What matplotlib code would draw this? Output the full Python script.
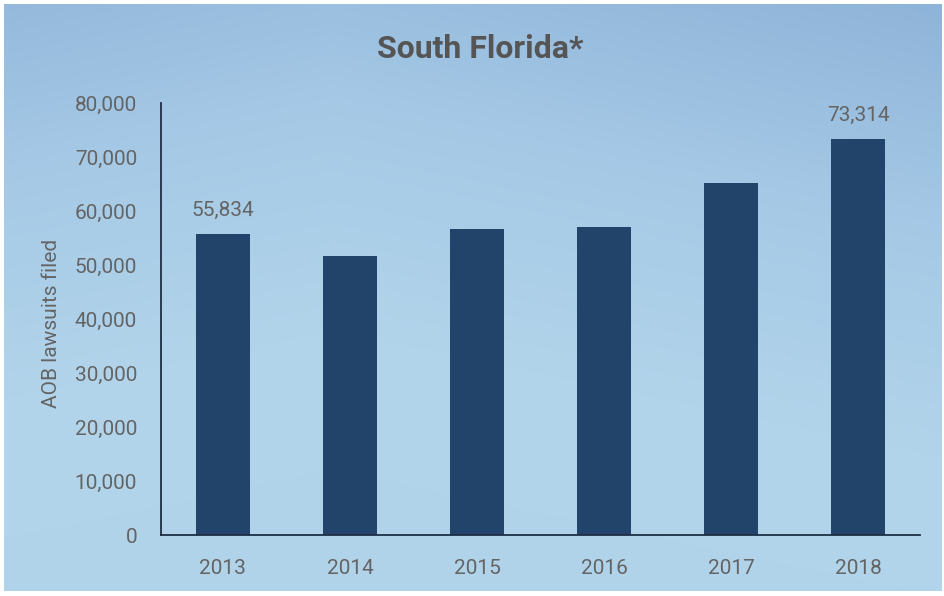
import numpy as np
import matplotlib.pyplot as plt
from matplotlib.colors import LinearSegmentedColormap
from matplotlib.ticker import FuncFormatter

years = ['2013', '2014', '2015', '2016', '2017', '2018']
lawsuits = [55834, 51700, 56700, 57100, 65200, 73314]
labelled = {0: '55,834', 5: '73,314'}

bar_color = '#23446a'
text_gray = '#646464'

plt.rcParams['font.family'] = ['Roboto', 'DejaVu Sans']

fig = plt.figure(figsize=(9.45, 5.96), dpi=100, facecolor='white')

# soft watercolour-like background
bg = fig.add_axes([0.004, 0.008, 0.992, 0.985], zorder=0)
cmap = LinearSegmentedColormap.from_list('bg', ['#8fb4d9', '#a6cae6', '#b3d5eb', '#b0d3ea'])
yy, xx = np.mgrid[0:1:200j, 0:1:300j]
grad = 0.75 * yy + 0.25 * (1 - np.abs(xx - 0.35))
bg.imshow(grad, cmap=cmap, aspect='auto', extent=[0, 1, 0, 1], origin='upper')
bg.set_axis_off()

ax = fig.add_axes([0.170, 0.102, 0.804, 0.725], zorder=1)
ax.patch.set_alpha(0)
x = np.arange(len(years))
ax.bar(x, lawsuits, width=0.43, color=bar_color, zorder=2)

for i, txt in labelled.items():
    ax.text(x[i], lawsuits[i] + 2600, txt, ha='center', va='bottom',
            fontsize=15, color=text_gray)

ax.set_xlim(-0.49, 5.49)
ax.set_ylim(0, 80000)
ax.set_yticks(np.arange(0, 80001, 10000))
ax.yaxis.set_major_formatter(FuncFormatter(lambda v, p: f'{int(v):,}'))
ax.set_xticks(x)
ax.set_xticklabels(years)
ax.tick_params(axis='both', length=0, labelsize=15, colors=text_gray)
ax.tick_params(axis='x', pad=17)
ax.tick_params(axis='y', pad=17)

for side in ['top', 'right']:
    ax.spines[side].set_visible(False)
for side in ['left', 'bottom']:
    ax.spines[side].set_color('#1e2f45')
    ax.spines[side].set_linewidth(1.3)

ax.set_ylabel('AOB lawsuits filed', fontsize=15, color=text_gray)
ax.yaxis.set_label_coords(-0.131, 0.49)

fig.text(0.508, 0.918, 'South Florida*', ha='center', va='center',
         fontsize=23, fontweight='bold', color='#555555')

fig.savefig('out.png', dpi=100, facecolor='white')
